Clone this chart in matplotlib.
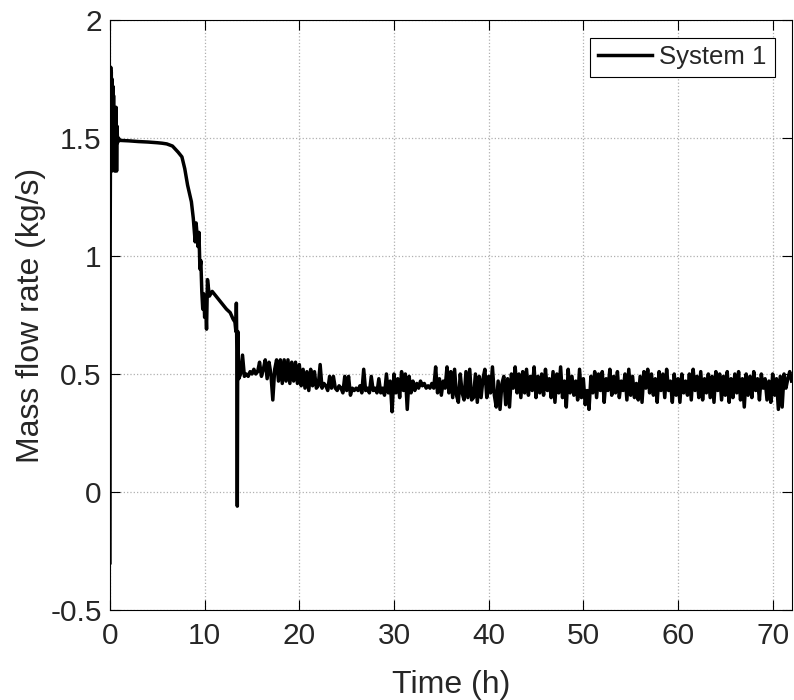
import numpy as np
import matplotlib
matplotlib.use("Agg")
import matplotlib.pyplot as plt

plt.rcParams['font.family'] = ['Liberation Sans', 'DejaVu Sans']

# start-up and transition part (time in h, mass flow rate in kg/s)
t_start = [0.0, 0.02, 0.05, 0.08, 0.1, 0.14, 0.18, 0.22, 0.26, 0.3, 0.34, 0.38,
           0.42, 0.46, 0.5, 0.55, 0.6, 0.65, 0.7, 0.75, 0.8, 0.9, 1.0, 2.0,
           3.0, 4.0, 5.0, 5.5, 6.0, 6.6, 7.2, 7.6, 7.9, 8.2, 8.6, 8.8, 9.0,
           9.1, 9.3, 9.4, 9.5, 9.6, 9.7, 9.8, 9.9, 10.0, 10.1, 10.2, 10.3,
           10.5, 10.8, 11.2, 11.6, 12.0, 12.3, 12.7, 13.0, 13.2, 13.3, 13.35,
           13.4, 13.45, 13.5]
m_start = [-0.30, 1.05, 1.50, 1.80, 1.38, 1.78, 1.36, 1.75, 1.40, 1.72, 1.37, 1.68,
           1.42, 1.62, 1.36, 1.55, 1.40, 1.63, 1.36, 1.55, 1.48, 1.50, 1.49, 1.488,
           1.485, 1.483, 1.48, 1.478, 1.475, 1.466, 1.44, 1.42, 1.37, 1.30, 1.23, 1.16, 1.06,
           1.14, 1.04, 1.10, 0.945, 0.98, 0.85, 0.775, 0.84, 0.74, 0.80, 0.69, 0.90,
           0.83, 0.85, 0.83, 0.81, 0.79, 0.775, 0.76, 0.733, 0.72, 0.68, 0.80,
           0.60, -0.06, 0.68]

# steady part, sampled every 0.2 h from 13.6 h
t0_noise = 13.6
dt_noise = 0.2
m_noise = [
    0.48, 0.50, 0.58, 0.49, 0.50, 0.49, 0.51, 0.50, 0.52, 0.50,
    0.51, 0.55, 0.49, 0.52, 0.56, 0.48, 0.55, 0.50, 0.39, 0.52,
    0.56, 0.47, 0.56, 0.46, 0.56, 0.47, 0.56, 0.46, 0.55, 0.47,
    0.55, 0.46, 0.54, 0.45, 0.52, 0.44, 0.51, 0.43, 0.52, 0.45,
    0.51, 0.44, 0.45, 0.54, 0.44, 0.46, 0.45, 0.43, 0.49, 0.44,
    0.49, 0.44, 0.43, 0.45, 0.44, 0.42, 0.49, 0.43, 0.49, 0.41,
    0.44, 0.43, 0.44, 0.43, 0.45, 0.42, 0.52, 0.43, 0.44, 0.42,
    0.49, 0.43, 0.44, 0.42, 0.48, 0.42, 0.44, 0.41, 0.50, 0.42,
    0.47, 0.34, 0.50, 0.42, 0.48, 0.40, 0.51, 0.43, 0.50, 0.35,
    0.49, 0.42, 0.47, 0.43, 0.46, 0.44, 0.47, 0.45, 0.46, 0.44,
    0.45, 0.44, 0.46, 0.44, 0.53, 0.42, 0.48, 0.41, 0.47, 0.44,
    0.53, 0.42, 0.51, 0.40, 0.52, 0.41, 0.38, 0.50, 0.42, 0.39,
    0.51, 0.40, 0.52, 0.39, 0.40, 0.50, 0.38, 0.49, 0.40, 0.48,
    0.52, 0.40, 0.49, 0.42, 0.53, 0.41, 0.36, 0.47, 0.35, 0.46,
    0.49, 0.37, 0.48, 0.36, 0.50, 0.44, 0.53, 0.42, 0.50, 0.40,
    0.51, 0.42, 0.52, 0.41, 0.49, 0.43, 0.53, 0.40, 0.49, 0.42,
    0.50, 0.41, 0.52, 0.43, 0.48, 0.40, 0.51, 0.38, 0.50, 0.42,
    0.53, 0.40, 0.47, 0.36, 0.52, 0.42, 0.49, 0.41, 0.47, 0.39,
    0.52, 0.40, 0.48, 0.37, 0.43, 0.35, 0.49, 0.42, 0.51, 0.40,
    0.50, 0.43, 0.51, 0.38, 0.48, 0.43, 0.52, 0.41, 0.49, 0.42,
    0.51, 0.40, 0.47, 0.43, 0.50, 0.39, 0.52, 0.41, 0.49, 0.40,
    0.46, 0.39, 0.49, 0.38, 0.51, 0.44, 0.52, 0.42, 0.50, 0.41,
    0.48, 0.38, 0.51, 0.43, 0.50, 0.40, 0.52, 0.43, 0.47, 0.38,
    0.50, 0.41, 0.48, 0.38, 0.50, 0.42, 0.47, 0.41, 0.50, 0.39,
    0.52, 0.43, 0.49, 0.40, 0.51, 0.39, 0.48, 0.42, 0.50, 0.40,
    0.49, 0.38, 0.51, 0.43, 0.50, 0.39, 0.49, 0.41, 0.51, 0.38,
    0.48, 0.40, 0.50, 0.42, 0.51, 0.39, 0.48, 0.36, 0.50, 0.41,
    0.49, 0.40, 0.51, 0.43, 0.48, 0.39, 0.50, 0.44, 0.48, 0.39,
    0.47, 0.38, 0.50, 0.41, 0.48, 0.35, 0.49, 0.36, 0.50, 0.44,
    0.48, 0.51, 0.47,
]

x_ticks = [0, 10, 20, 30, 40, 50, 60, 70]
y_ticks = [-0.5, 0, 0.5, 1, 1.5, 2]
y_tick_labels = ['-0.5', '0', '0.5', '1', '1.5', '2']

t_noise = t0_noise + dt_noise * np.arange(len(m_noise))
t = np.concatenate([t_start, t_noise])
m = np.concatenate([m_start, m_noise])

txt = '#262626'

fig = plt.figure(figsize=(7.94, 7.0), dpi=100)
ax = fig.add_axes([0.1385, 0.1286, 0.8585, 0.8428])

ax.plot(t, m, color='black', linewidth=2.5, label='System 1')

ax.set_xlim(0, 72)
ax.set_ylim(-0.5, 2)
ax.set_xticks(x_ticks)
ax.set_yticks(y_ticks)
ax.set_yticklabels(y_tick_labels)
ax.grid(True, linestyle=':', color='#b0b0b0', linewidth=0.9)
ax.tick_params(direction='in', length=7, width=0.8, top=True, right=True,
               labelsize=21.5, labelcolor=txt)
ax.tick_params(axis='x', pad=9)
ax.tick_params(axis='y', pad=6)
for s in ax.spines.values():
    s.set_linewidth(0.8)

ax.set_xlabel('Time (h)', fontsize=23, labelpad=14, color=txt)
ax.set_ylabel('Mass flow rate (kg/s)', fontsize=23, labelpad=3, color=txt)

leg = ax.legend(loc='upper right', bbox_to_anchor=(0.975, 0.97), borderaxespad=0,
                fontsize=18.5, fancybox=False, framealpha=1, edgecolor='black',
                handlelength=2.1, handletextpad=0.3, borderpad=0.3)
leg.get_frame().set_linewidth(0.8)
for tx in leg.get_texts():
    tx.set_color(txt)

fig.savefig('out.png', dpi=100)
